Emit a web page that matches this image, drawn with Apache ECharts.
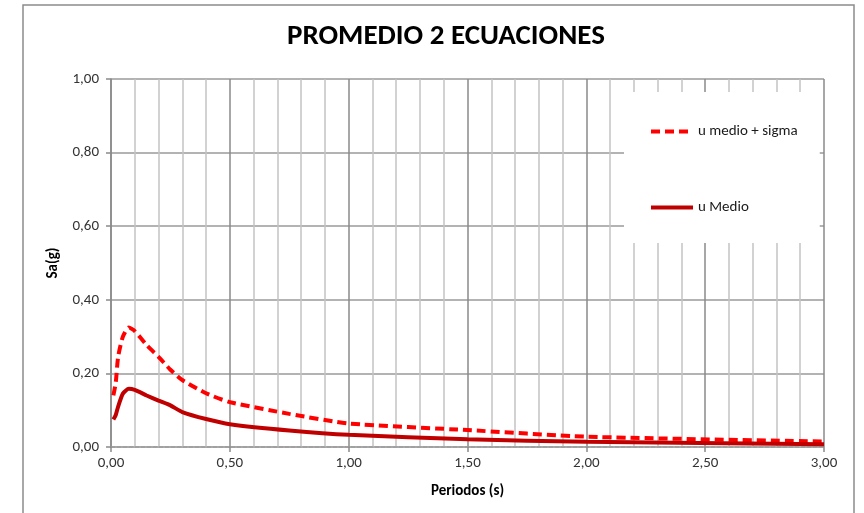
<!DOCTYPE html>
<html>
<head>
<meta charset="utf-8">
<script src="https://cdn.jsdelivr.net/npm/echarts@6/dist/echarts.min.js"></script>
<style>
  html, body { margin: 0; padding: 0; background: #fff; }
  #chart { width: 864px; height: 513px; }
</style>
</head>
<body>
<div id="chart"></div>
<script>
// Spectral periods (s)
const periods = [0.01, 0.02, 0.03, 0.05, 0.075, 0.1, 0.15, 0.2, 0.25, 0.3, 0.4, 0.5, 0.75, 1.0, 1.5, 2.0, 3.0];
// Mean spectral acceleration + one standard deviation (g)
const saMedioSigma = [0.140, 0.175, 0.245, 0.300, 0.325, 0.315, 0.277, 0.245, 0.210, 0.182, 0.146, 0.122, 0.090, 0.064, 0.046, 0.028, 0.015];
// Mean spectral acceleration (g)
const saMedio = [0.075, 0.087, 0.110, 0.145, 0.158, 0.155, 0.140, 0.126, 0.113, 0.095, 0.076, 0.062, 0.045, 0.033, 0.021, 0.014, 0.0075];

const seriesNames = ['u medio + sigma', 'u Medio'];
const titleText = 'PROMEDIO 2 ECUACIONES';
const xName = 'Periodos (s)';
const yName = 'Sa(g)';

const FONT = 'Carlito, Lato, "Open Sans", sans-serif';
const fmt = v => v.toFixed(2).replace('.', ',');
const pairs = ys => periods.map((t, i) => [t, ys[i]]);

const chart = echarts.init(document.getElementById('chart'), null, { renderer: 'canvas' });
chart.setOption({
  animation: false,
  backgroundColor: '#fff',
  textStyle: { fontFamily: FONT },
  title: {
    text: titleText,
    left: 282,
    top: 17,
    textStyle: { fontFamily: FONT, fontSize: 29, fontWeight: 'bold', color: '#000' }
  },
  graphic: [{
    type: 'rect',
    shape: { x: 23, y: 5, width: 831, height: 520 },
    style: { fill: 'none', stroke: '#8c8c8c', lineWidth: 1.5 },
    silent: true,
    z: 100
  }],
  grid: { left: 111, right: 40, top: 79, bottom: 66 },
  legend: {
    orient: 'vertical',
    left: 624,
    top: 92,
    padding: [32, 22, 28, 25],
    itemGap: 61,
    itemWidth: 42,
    itemHeight: 16,
    backgroundColor: '#fff',
    itemStyle: { opacity: 0 },
    lineStyle: { width: 4 },
    textStyle: { fontFamily: FONT, fontSize: 15, color: '#1a1a1a' },
    data: seriesNames,
    z: 10
  },
  xAxis: {
    type: 'value',
    min: 0,
    max: 3,
    interval: 0.5,
    name: xName,
    nameLocation: 'middle',
    nameGap: 37,
    nameTextStyle: { fontFamily: FONT, fontSize: 15, fontWeight: 'bold', color: '#000' },
    axisLine: { show: true, onZero: false, lineStyle: { color: '#9a9a9a', width: 1.5, type: [4, 2] } },
    axisTick: { show: true, length: 5, lineStyle: { color: '#8a8a8a', width: 1.5 } },
    axisLabel: { formatter: fmt, margin: 9, fontSize: 15, color: '#333', fontFamily: FONT },
    splitLine: { show: true, lineStyle: { color: '#8a8a8a', width: 1.5 } },
    minorTick: { show: false, splitNumber: 5 },
    minorSplitLine: { show: true, lineStyle: { color: '#c4c4c4', width: 1.5 } }
  },
  yAxis: {
    type: 'value',
    min: 0,
    max: 1,
    interval: 0.2,
    name: yName,
    nameLocation: 'middle',
    nameGap: 50,
    nameTextStyle: { fontFamily: FONT, fontSize: 15, fontWeight: 'bold', color: '#000' },
    axisLine: { show: true, lineStyle: { color: '#8a8a8a', width: 1.5 } },
    axisTick: { show: true, length: 5, lineStyle: { color: '#8a8a8a', width: 1.5 } },
    axisLabel: { formatter: fmt, margin: 12, fontSize: 15, color: '#333', fontFamily: FONT },
    splitLine: { show: true, lineStyle: { color: '#9a9a9a', width: 1.5 } }
  },
  series: [
    {
      name: seriesNames[0],
      type: 'line',
      data: pairs(saMedioSigma),
      symbol: 'none',
      smooth: 0.2,
      lineStyle: { color: '#ff0000', width: 4, type: [9, 5] },
      itemStyle: { color: '#ff0000' },
      z: 3
    },
    {
      name: seriesNames[1],
      type: 'line',
      data: pairs(saMedio),
      symbol: 'none',
      smooth: 0.2,
      lineStyle: { color: '#c00000', width: 4 },
      itemStyle: { color: '#c00000' },
      z: 4
    }
  ]
});
</script>
</body>
</html>
